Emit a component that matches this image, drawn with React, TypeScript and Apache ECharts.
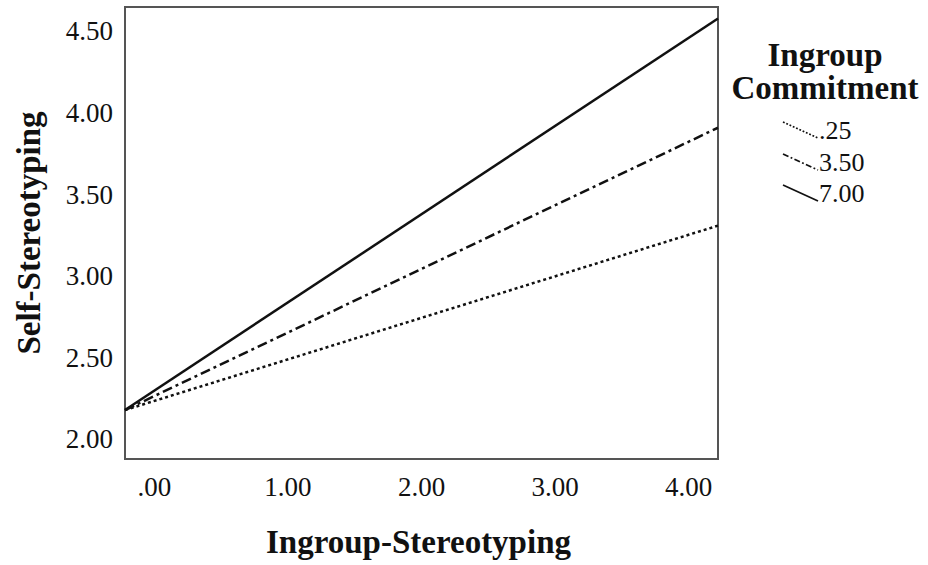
import React, { useEffect, useRef } from "react";
import * as echarts from "echarts";

const xEnds = [-0.22, 4.22];
const lowCommitment = [2.18, 3.31];
const midCommitment = [2.18, 3.91];
const highCommitment = [2.18, 4.58];
const xTicks = [0, 1, 2, 3, 4];
const yTicks = [2.0, 2.5, 3.0, 3.5, 4.0, 4.5];
const legendLabels = [".25", "3.50", "7.00"];
const legendTitle = ["Ingroup", "Commitment"];

const SERIF = "'Liberation Serif', 'Times New Roman', serif";

function fmtX(v: number) {
  const s = v.toFixed(2);
  return s.startsWith("0") ? s.slice(1) : s;
}

export default function App() {
  const ref = useRef<HTMLDivElement>(null);
  useEffect(() => {
    if (!ref.current) return;
    const chart = echarts.init(ref.current, undefined, { renderer: "svg" });
    const mk = (ys: number[]) => xEnds.map((x, i) => [x, ys[i]]);
    const dashes: (number[] | "solid")[] = [[3, 3], [10, 4, 3, 4], "solid"];
    const seriesData = [lowCommitment, midCommitment, highCommitment];
    const legendY = [130, 162, 193];
    chart.setOption({
      animation: false,
      backgroundColor: "#fff",
      grid: {
        left: 125,
        right: 210,
        top: 7,
        bottom: 106,
        show: true,
        borderColor: "#555",
        borderWidth: 2,
        backgroundColor: "transparent",
      },
      xAxis: {
        type: "value",
        min: xEnds[0],
        max: xEnds[1],
        name: "Ingroup-Stereotyping",
        nameLocation: "middle",
        nameGap: 66,
        nameTextStyle: { fontFamily: SERIF, fontSize: 33, fontWeight: "bold", color: "#111", padding: [0, 6, 0, 0] },
        axisLine: { show: true, onZero: false, lineStyle: { color: "#555", width: 2 } },
        axisTick: { show: false },
        splitLine: { show: false },
        axisLabel: {
          customValues: xTicks,
          formatter: (v: number) => fmtX(v),
          fontFamily: SERIF,
          fontSize: 27,
          color: "#111",
          margin: 14,
        },
      },
      yAxis: {
        type: "value",
        min: 1.88,
        max: 4.65,
        name: "Self-Stereotyping",
        nameLocation: "middle",
        nameGap: 80,
        nameTextStyle: { fontFamily: SERIF, fontSize: 33, fontWeight: "bold", color: "#111" },
        axisLine: { show: true, onZero: false, lineStyle: { color: "#555", width: 2 } },
        axisTick: { show: false },
        splitLine: { show: false },
        axisLabel: {
          customValues: yTicks,
          formatter: (v: number) => v.toFixed(2),
          fontFamily: SERIF,
          fontSize: 27,
          color: "#111",
          margin: 12,
        },
      },
      series: seriesData.map((ys, i) => ({
        type: "line",
        name: legendLabels[i],
        data: mk(ys),
        symbol: "none",
        lineStyle: { color: "#111", width: 2.5, type: dashes[i] },
        z: 3 - i,
      })),
      graphic: [
        ...legendTitle.map((t, i) => ({
          type: "text",
          x: 825,
          y: 55 + i * 33,
          style: {
            text: t,
            fontFamily: SERIF,
            fontSize: 33,
            fontWeight: "bold",
            fill: "#111",
            align: "center",
            verticalAlign: "middle",
          },
        })),
        ...legendLabels.map((t, i) => ({
          type: "line",
          shape: { x1: 783, y1: legendY[i] - 8, x2: 818, y2: legendY[i] + 8 },
          style: {
            stroke: "#111",
            lineWidth: 1.8,
            lineDash: dashes[i] === "solid" ? null : (dashes[i] as number[]).map((d) => d * 0.6),
          },
        })),
        ...legendLabels.map((t, i) => ({
          type: "text",
          x: 819,
          y: legendY[i],
          style: {
            text: t,
            fontFamily: SERIF,
            fontSize: 26,
            fill: "#111",
            align: "left",
            verticalAlign: "middle",
          },
        })),
      ],
    });
    return () => chart.dispose();
  }, []);
  return (
    <div
      ref={ref}
      style={{ position: "absolute", left: 0, top: 0, width: 928, height: 565 }}
    />
  );
}
